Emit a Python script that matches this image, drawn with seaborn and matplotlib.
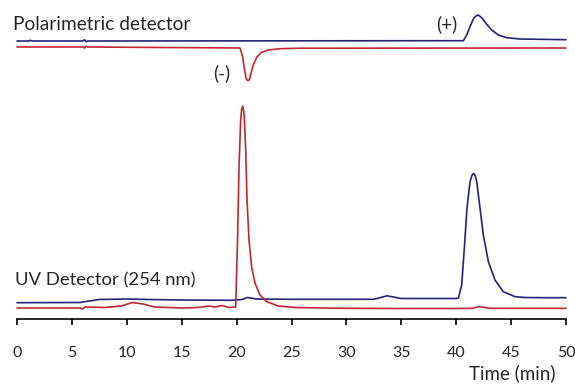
import pandas as pd
import matplotlib
matplotlib.use("Agg")
import matplotlib.pyplot as plt
import seaborn as sns

# -----------------------------
# Chromatogram readings (time in min, signal in arbitrary units)
# UV detector (254 nm), red trace
uv_red_t = [0, 5.8, 5.95, 6.2, 8, 9.5, 10.5, 11.5, 12.5, 15, 16.5, 17.5, 18.0, 18.7, 19.3, 19.92,
            20.1, 20.22, 20.37, 20.46, 20.55, 20.63, 20.7, 20.83, 20.95, 21.13, 21.37, 21.68,
            22.13, 22.74, 23.8, 25.3, 28, 30, 35, 40, 41.5, 42.1, 43, 50]
uv_red_v = [11, 11, 10, 12, 11.5, 13, 16.5, 15, 12, 11, 11.5, 13, 12, 13.5, 11.5, 12,
            85.7, 152, 199, 209.5, 213, 209, 202, 169, 119, 79, 52, 35.7,
            24, 17.3, 13, 11.5, 11, 10.7, 10.5, 10.5, 10.7, 12.5, 10.7, 10.7]

# UV detector, blue trace
uv_blue_t = [0, 5.8, 6.0, 7.5, 10, 12, 15, 19.5, 20.5, 21.0, 21.8, 25, 32.5, 33.7, 35, 40.0,
             40.2, 40.5, 40.74, 40.98, 41.26, 41.43, 41.59, 41.73, 41.87, 42.17, 42.47, 42.93,
             43.53, 44.29, 45.36, 46.27, 48, 50]
uv_blue_v = [16.3, 16.5, 17, 19.5, 20, 19.5, 19, 18.7, 19.5, 21.5, 20, 19.7, 19.7, 23.2, 20.5, 20.5,
             21, 34, 70.7, 110.7, 137.3, 143.5, 145.7, 143, 137.3, 110.7, 84, 57.3,
             39, 27.3, 22.3, 21.5, 21.3, 21.3]

# Polarimetric detector, blue trace (+)
pol_blue_t = [0, 1.1, 1.2, 1.35, 6.0, 6.15, 6.3, 6.45, 40.65, 40.96, 41.26, 41.56, 41.8, 42.0,
              42.32, 42.78, 43.23, 43.84, 44.6, 45.8, 50]
pol_blue_v = [278, 278, 278.8, 278, 278, 279.2, 277.2, 278, 278.3, 284, 292.3, 300, 303, 304,
              301.3, 294.7, 289, 284, 281.3, 280, 279.3]

# Polarimetric detector, red trace (-)
pol_red_t = [0, 6.0, 6.15, 6.3, 6.45, 20.31, 20.55, 20.7, 20.86, 21.0, 21.16, 21.31, 21.52,
             21.83, 22.28, 22.9, 23.95, 25.8, 50]
pol_red_v = [272, 272, 271.0, 272.6, 272, 271, 262.3, 250.7, 240.7, 238.5, 239, 245.7, 254,
             261.7, 266.7, 269, 270.3, 270.8, 271]

x_ticks = [0, 5, 10, 15, 20, 25, 30, 35, 40, 45, 50]

blue = "#24247a"
red = "#c1272d"

sns.set_style("white")
plt.rcParams['font.family'] = ['Lato', 'DejaVu Sans']

fig = plt.figure(figsize=(5.75, 3.88), dpi=100)
ax = fig.add_axes([17 / 575, 69 / 388, 549 / 575, 319 / 388])

traces = [
    (uv_blue_t, uv_blue_v, blue),
    (uv_red_t, uv_red_v, red),
    (pol_blue_t, pol_blue_v, blue),
    (pol_red_t, pol_red_v, red),
]
for t, v, c in traces:
    d = pd.DataFrame({'time': t, 'signal': v})
    sns.lineplot(x='time', y='signal', data=d, color=c, linewidth=1.2, ax=ax,
                 clip_on=False)

ax.set_xlim(0, 50)
ax.set_ylim(0, 319)
ax.set_xticks(x_ticks)
ax.set_xticklabels([str(x) for x in x_ticks], fontsize=11.5)
ax.set_yticks([])
ax.set_xlabel('')
ax.set_ylabel('')
sns.despine(ax=ax, left=True, top=True, right=True)
ax.spines['bottom'].set_color('black')
ax.spines['bottom'].set_linewidth(1.2)
ax.tick_params(axis='x', direction='out', length=4.5, width=1.2, color='black',
               bottom=True, pad=15)
ax.patch.set_alpha(0)

ax.text(-0.36, 289, 'Polarimetric detector', fontsize=13.8, va='baseline', ha='left')
ax.text(-0.2, 34, 'UV Detector (254 nm)', fontsize=13.3, va='baseline', ha='left')
ax.text(18.6, 246, '(-)', fontsize=13.5, va='center', ha='center')
ax.text(39.1, 295, '(+)', fontsize=13.5, va='center', ha='center')
ax.text(45.1, -54, 'Time (min)', fontsize=13.5, va='center', ha='center')

plt.savefig('out.png', dpi=100)
plt.close()
